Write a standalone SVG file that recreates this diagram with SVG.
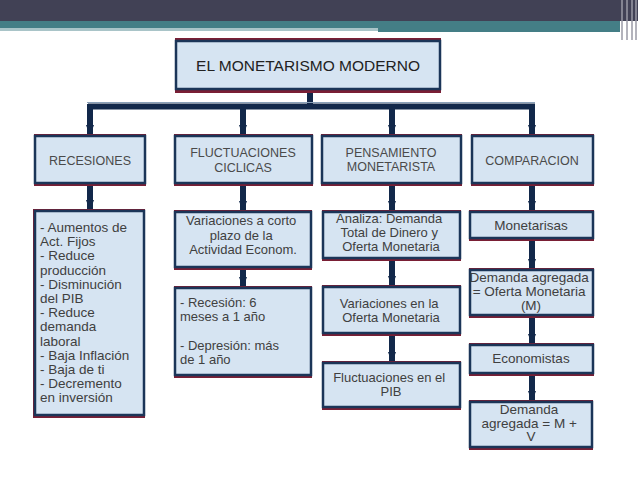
<svg xmlns="http://www.w3.org/2000/svg" width="638" height="479" viewBox="0 0 638 479">
<style>
.sh{fill:#7a1f35}
.bx{fill:#d6e4f2;stroke:#1b3558;stroke-width:2.5}
.t{font-family:"Liberation Sans",Arial,sans-serif;fill:#404040}
.c{text-anchor:middle}
.h{font-size:12.5px;fill:#4a4a4a}
.s{font-size:13px}
.l{font-size:13.5px}
.cn{stroke:#12284a;stroke-width:6;fill:none}
</style>
<defs>
<marker id="ar" markerUnits="userSpaceOnUse" markerWidth="12" markerHeight="8" refX="11" refY="4" orient="auto">
<path d="M0,0 L11,4 L0,8 Z" fill="#12284a"/>
</marker>
</defs>
<rect width="638" height="479" fill="#ffffff"/>
<rect x="0" y="0" width="638" height="21" fill="#414155"/>
<rect x="0" y="21" width="620" height="7" fill="#447e86"/>
<rect x="0" y="28" width="378" height="3" fill="#a9c4c8"/>
<rect x="378" y="28" width="242" height="4" fill="#447e86"/>
<g stroke="#9a9aa6" stroke-width="1.5">
<line x1="622" y1="0" x2="622" y2="40"/>
<line x1="627" y1="0" x2="627" y2="40"/>
<line x1="632" y1="0" x2="632" y2="40"/>
<line x1="636" y1="0" x2="636" y2="40"/>
</g>
<g id="connectors">
<line class="cn" x1="310" y1="90" x2="310" y2="106"/>
<line x1="87" y1="102.5" x2="535" y2="102.5" stroke="#8aa0b8" stroke-width="1"/>
<line class="cn" x1="88" y1="106.5" x2="535" y2="106.5" stroke-width="5"/>
<line class="cn" x1="90" y1="104" x2="90" y2="136" marker-end="url(#ar)"/>
<line class="cn" x1="243" y1="104" x2="243" y2="136" marker-end="url(#ar)"/>
<line class="cn" x1="392" y1="104" x2="392" y2="136" marker-end="url(#ar)"/>
<line class="cn" x1="532" y1="104" x2="532" y2="136" marker-end="url(#ar)"/>
<line class="cn" x1="90" y1="183" x2="90" y2="211" marker-end="url(#ar)"/>
<line class="cn" x1="243" y1="183" x2="243" y2="212" marker-end="url(#ar)"/>
<line class="cn" x1="243" y1="267" x2="243" y2="288" marker-end="url(#ar)"/>
<line class="cn" x1="392" y1="183" x2="392" y2="212" marker-end="url(#ar)"/>
<line class="cn" x1="392" y1="258" x2="392" y2="287" marker-end="url(#ar)"/>
<line class="cn" x1="392" y1="333" x2="392" y2="363" marker-end="url(#ar)"/>
<line class="cn" x1="532" y1="183" x2="532" y2="212" marker-end="url(#ar)"/>
<line class="cn" x1="532" y1="238" x2="532" y2="270" marker-end="url(#ar)"/>
<line class="cn" x1="532" y1="315" x2="532" y2="345" marker-end="url(#ar)"/>
<line class="cn" x1="532" y1="373" x2="532" y2="402" marker-end="url(#ar)"/>
</g>
<g id="main">
<rect class="sh" x="175" y="38" width="266" height="55"/>
<rect class="bx" x="176" y="41" width="264" height="48"/>
<text class="t c" x="308" y="71" font-size="15.5" style="fill:#222">EL MONETARISMO MODERNO</text>
</g>
<g id="recesiones">
<rect class="sh" x="34" y="134" width="112" height="52"/>
<rect class="bx" x="35" y="136" width="110" height="47"/>
<text class="t c h" x="90" y="165">RECESIONES</text>
</g>
<g id="fluctuaciones">
<rect class="sh" x="174" y="134" width="139" height="52"/>
<rect class="bx" x="175" y="136" width="137" height="47"/>
<text class="t c h" x="243" y="157">FLUCTUACIONES</text>
<text class="t c h" x="243" y="172">CICLICAS</text>
</g>
<g id="pensamiento">
<rect class="sh" x="321" y="134" width="141" height="52"/>
<rect class="bx" x="322" y="136" width="139" height="47"/>
<text class="t c h" x="391" y="157">PENSAMIENTO</text>
<text class="t c h" x="391" y="171">MONETARISTA</text>
</g>
<g id="comparacion">
<rect class="sh" x="471" y="134" width="123" height="52"/>
<rect class="bx" x="472" y="136" width="121" height="47"/>
<text class="t c h" x="532" y="165">COMPARACION</text>
</g>
<g id="recesiones-lista">
<rect class="sh" x="33" y="209" width="112" height="209"/>
<rect class="bx" x="35" y="211" width="109" height="204"/>
<text class="t l" x="40" y="232">
<tspan x="40">- Aumentos de</tspan>
<tspan x="40" dy="14.2">Act. Fijos</tspan>
<tspan x="40" dy="14.2">- Reduce</tspan>
<tspan x="40" dy="14.2">producción</tspan>
<tspan x="40" dy="14.2">- Disminución</tspan>
<tspan x="40" dy="14.2">del PIB</tspan>
<tspan x="40" dy="14.2">- Reduce</tspan>
<tspan x="40" dy="14.2">demanda</tspan>
<tspan x="40" dy="14.2">laboral</tspan>
<tspan x="40" dy="14.2">- Baja Inflación</tspan>
<tspan x="40" dy="14.2">- Baja de ti</tspan>
<tspan x="40" dy="14.2">- Decremento</tspan>
<tspan x="40" dy="14.2">en inversión</tspan>
</text>
</g>
<g id="variaciones-corto">
<rect class="sh" x="174" y="210" width="138" height="60"/>
<rect class="bx" x="175" y="212" width="136" height="55"/>
<text class="t c s" x="243" y="225">
<tspan x="243">Variaciones a corto</tspan>
<tspan x="243" dy="14.5">plazo de la</tspan>
<tspan x="243" dy="14.5">Actividad Econom.</tspan>
</text>
</g>
<g id="recesion-depresion">
<rect class="sh" x="174" y="286" width="138" height="92"/>
<rect class="bx" x="175" y="288" width="136" height="87"/>
<text class="t s" x="180" y="307">
<tspan x="180">- Recesión: 6</tspan>
<tspan x="180" dy="14.2">meses a 1 año</tspan>
<tspan x="180" dy="28.6">- Depresión: más</tspan>
<tspan x="180" dy="14.2">de 1 año</tspan>
</text>
</g>
<g id="analiza">
<rect class="sh" x="322" y="210" width="139" height="51"/>
<rect class="bx" x="323" y="212" width="137" height="46"/>
<text class="t c s" x="391" y="223">
<tspan x="391">Analiza: Demanda</tspan>
<tspan x="391" dy="14">Total de Dinero y</tspan>
<tspan x="391" dy="14">Oferta Monetaria</tspan>
</text>
</g>
<g id="variaciones-oferta">
<rect class="sh" x="322" y="285" width="139" height="51"/>
<rect class="bx" x="323" y="287" width="137" height="46"/>
<text class="t c s" x="391" y="308">
<tspan x="391">Variaciones en la</tspan>
<tspan x="391" dy="14">Oferta Monetaria</tspan>
</text>
</g>
<g id="fluctuaciones-pib">
<rect class="sh" x="322" y="361" width="139" height="49"/>
<rect class="bx" x="323" y="363" width="137" height="44"/>
<text class="t c s" x="391" y="382">
<tspan x="391">Fluctuaciones en el</tspan>
<tspan x="391" dy="14">PIB</tspan>
</text>
</g>
<g id="monetarisas">
<rect class="sh" x="469" y="210" width="125" height="31"/>
<rect class="bx" x="470" y="212" width="123" height="26"/>
<text class="t c l" x="531" y="230">Monetarisas</text>
</g>
<g id="demanda-oferta">
<rect class="sh" x="469" y="268" width="125" height="50"/>
<rect class="bx" x="470" y="270" width="123" height="45"/>
<text class="t c l" x="531" y="282">
<tspan x="531">Demanda agregada</tspan>
<tspan x="531" dy="14">= Oferta Monetaria</tspan>
<tspan x="531" dy="13.5">(M)</tspan>
</text>
</g>
<g id="economistas">
<rect class="sh" x="469" y="343" width="125" height="33"/>
<rect class="bx" x="470" y="345" width="123" height="28"/>
<text class="t c l" x="531" y="363">Economistas</text>
</g>
<g id="demanda-mv">
<rect class="sh" x="469" y="400" width="124" height="50"/>
<rect class="bx" x="470" y="402" width="122" height="45"/>
<text class="t c l" x="531" y="414">
<tspan x="531">Demanda</tspan>
<tspan x="531" dy="13.5">agregada = M +</tspan>
<tspan x="531" dy="13.5">V</tspan>
</text>
</g>
</svg>
